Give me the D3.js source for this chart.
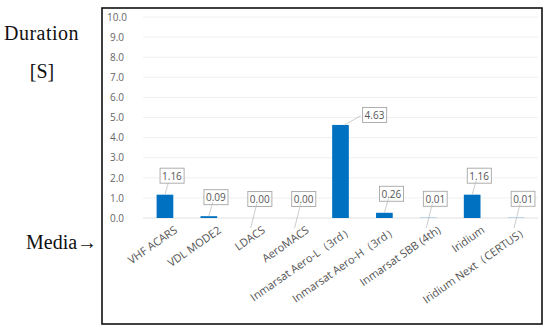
<!DOCTYPE html>
<html><head><meta charset="utf-8">
<script src="https://cdn.jsdelivr.net/npm/d3@7"></script>
<style>body{margin:0;background:#fff}</style>
</head><body>
<svg id="c" width="550" height="333"></svg>
<script>
const categories = ["VHF ACARS","VDL MODE2","LDACS","AeroMACS","Inmarsat Aero-L\uFF083rd\uFF09","Inmarsat Aero-H\uFF083rd\uFF09","Inmarsat SBB (4th)","Iridium","Iridium Next\uFF08CERTUS\uFF09"];
const values = [1.16,0.09,0.00,0.00,4.63,0.26,0.01,1.16,0.01];
const labels = ["1.16","0.09","0.00","0.00","4.63","0.26","0.01","1.16","0.01"];
const yTicks = [0,1,2,3,4,5,6,7,8,9,10];

const svg = d3.select("#c");
svg.append("rect").attr("x",102).attr("y",8).attr("width",440).attr("height",316)
  .attr("fill","#fff").attr("stroke","#111").attr("stroke-width",1.6);

const x = d3.scaleBand().domain(categories).range([143,538]).paddingInner(0.62).paddingOuter(0.31);
const y = d3.scaleLinear().domain([0,10]).range([218,17]);

const sans = "Open Sans, Noto Sans, DejaVu Sans, sans-serif";

// gridlines
svg.append("g").selectAll("line").data(yTicks).join("line")
  .attr("x1",143).attr("x2",538).attr("y1",d=>y(d)).attr("y2",d=>y(d))
  .attr("stroke",d=>d===0?"#e0e0e0":"#f0f0f0").attr("stroke-width",1);

// y axis
const ya = svg.append("g").attr("transform","translate(117,0)")
  .call(d3.axisLeft(y).tickValues(yTicks).tickFormat(d3.format(".1f")).tickSize(0));
ya.select(".domain").remove();
ya.selectAll("text").attr("font-family",sans).attr("font-size",10).attr("fill","#666").attr("text-anchor","middle").attr("x",0);

// bars
svg.append("g").selectAll("rect").data(values).join("rect")
  .attr("x",(d,i)=>x(categories[i])).attr("width",x.bandwidth())
  .attr("y",d=>y(d)).attr("height",d=>y(0)-y(d)).attr("fill","#0070C0");

// data labels with leaders
const lg = svg.append("g");
values.forEach((v,i)=>{
  const cx = x(categories[i]) + x.bandwidth()/2;
  const big = i===4;
  const bx = big ? cx+34 : cx+7;
  const by = big ? y(v)-10 : Math.min(y(v)-19, 203);
  if (big) {
    lg.append("line").attr("x1",cx+4).attr("y1",y(v)).attr("x2",bx-14).attr("y2",by+1)
      .attr("stroke","#bfbfbf").attr("stroke-width",0.8);
  } else {
    const x0 = v<0.05 ? cx-2 : cx;
    const y0 = v<0.05 ? y(0)+10 : y(v);
    lg.append("line").attr("x1",x0).attr("y1",y0).attr("x2",cx+4).attr("y2",by+5)
      .attr("stroke","#bfbfbf").attr("stroke-width",0.8);
  }
  const t = lg.append("text").attr("x",bx).attr("y",by).attr("text-anchor","middle")
    .attr("dominant-baseline","central")
    .attr("font-family",sans).attr("font-size",10).attr("fill","#555").text(labels[i]);
  const bb = t.node().getBBox();
  lg.insert("rect","text").attr("x",bb.x-2).attr("y",bb.y-0.5).attr("width",bb.width+4).attr("height",bb.height+1)
    .attr("fill","#fff").attr("stroke","#a6a6a6").attr("stroke-width",0.9);
});

// x axis labels
const xa = svg.append("g").attr("transform","translate(0,218)")
  .call(d3.axisBottom(x).tickSize(0));
xa.select(".domain").remove();
xa.selectAll("text").attr("font-family",sans).attr("font-size",11).attr("fill","#555")
  .attr("text-anchor","end").attr("transform","translate(7,5) rotate(-35)").attr("dy","0.7em");

// side titles
const serif = "Liberation Serif, DejaVu Serif, serif";
svg.append("text").attr("x",4).attr("y",40).attr("font-family",serif).attr("font-size",20).attr("letter-spacing",0.5).attr("fill","#111").text("Duration");
svg.append("text").attr("x",42).attr("y",78).attr("text-anchor","middle").attr("font-family",serif).attr("font-size",20).attr("fill","#111").text("[S]");
svg.append("text").attr("x",26).attr("y",249).attr("font-family",serif).attr("font-size",20).attr("fill","#111").text("Media\u2192");
</script>
</body></html>
